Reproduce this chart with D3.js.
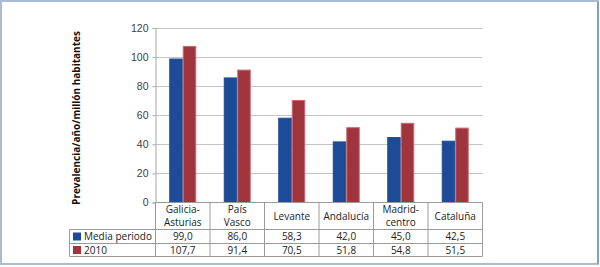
<!DOCTYPE html>
<html>
<head>
<meta charset="utf-8">
<script src="https://cdnjs.cloudflare.com/ajax/libs/d3/7.8.5/d3.min.js"></script>
<style>
  html, body { margin: 0; padding: 0; background: #fff; }
  svg { display: block; font-family: "Open Sans", "Noto Sans", sans-serif; }
</style>
</head>
<body>
<div id="chart"></div>
<script>
// data
const categories = ['Galicia-Asturias', 'País Vasco', 'Levante', 'Andalucía', 'Madrid-centro', 'Cataluña'];
const categoryLines = [['Galicia-', 'Asturias'], ['País', 'Vasco'], ['Levante'], ['Andalucía'], ['Madrid-', 'centro'], ['Cataluña']];
const seriesNames = ['Media periodo', '2010'];
const mediaPeriodo = [99.0, 86.0, 58.3, 42.0, 45.0, 42.5];
const valores2010 = [107.7, 91.4, 70.5, 51.8, 54.8, 51.5];
const yTicks = [0, 20, 40, 60, 80, 100, 120];

const W = 600, H = 267;
const colors = ['#1d4b97', '#a0343c'];
const strokes = ['#1d4b97', '#c86a72'];

const plot = { left: 155.5, right: 482.5, top: 28, bottom: 202.5 };
const tableLeft = 69.5;
const rowLines = [229.5, 243.5, 256.5];

const svg = d3.select('#chart').append('svg')
    .attr('width', W)
    .attr('height', H);

// outer frame
svg.append('rect')
    .attr('x', 1).attr('y', 1)
    .attr('width', W - 3).attr('height', H - 4)
    .attr('fill', '#fff')
    .attr('stroke', '#a9bbd6')
    .attr('stroke-width', 2);
svg.append('line')
    .attr('x1', W - 2).attr('x2', W - 2)
    .attr('y1', 2).attr('y2', H - 3)
    .attr('stroke', '#7394c9').attr('stroke-width', 1.5);

const x = d3.scaleBand()
    .domain(categories)
    .range([plot.left, plot.right]);

const y = d3.scaleLinear()
    .domain([0, 120])
    .range([plot.bottom, plot.top]);

const groupW = 27;
const xs = d3.scaleBand()
    .domain(seriesNames)
    .range([0, groupW]);

// gridlines
svg.append('g')
    .selectAll('line')
    .data(yTicks.filter(d => d > 0))
    .enter()
    .append('line')
    .attr('x1', plot.left).attr('x2', plot.right)
    .attr('y1', d => Math.round(y(d)) + 0.5)
    .attr('y2', d => Math.round(y(d)) + 0.5)
    .attr('stroke', '#c4c4c4');

// y axis
const yAxis = svg.append('g')
    .attr('transform', `translate(${plot.left},0)`)
    .call(d3.axisLeft(y).tickValues(yTicks).tickSize(3).tickPadding(4));
yAxis.select('.domain').attr('stroke', '#a6a6a6');
yAxis.selectAll('.tick line').attr('stroke', '#a6a6a6');
yAxis.selectAll('.tick text')
    .style('font-size', '10.5px')
    .attr('fill', '#404040');

svg.append('text')
    .attr('transform', `translate(80,118) rotate(-90)`)
    .attr('text-anchor', 'middle')
    .style('font-size', '10px')
    .style('font-weight', 'bold')
    .attr('fill', '#111')
    .text('Prevalencia/año/millón habitantes');

// bars
const series = [mediaPeriodo, valores2010];
series.forEach((vals, si) => {
    svg.append('g')
        .selectAll('rect')
        .data(vals)
        .enter()
        .append('rect')
        .attr('x', (d, i) => x(categories[i]) + (x.bandwidth() - groupW) / 2 + xs(seriesNames[si]) + 0.5)
        .attr('y', d => y(d) + 0.5)
        .attr('width', xs.bandwidth() - 1)
        .attr('height', d => y(0) - y(d) - 0.5)
        .attr('fill', colors[si])
        .attr('stroke', strokes[si])
        .attr('stroke-width', 1);
});

// data table
const table = svg.append('g').attr('stroke', '#9a9a9a').attr('stroke-width', 1);
table.append('line')
    .attr('x1', plot.left).attr('x2', plot.right)
    .attr('y1', plot.bottom).attr('y2', plot.bottom);
rowLines.forEach(ly => {
    table.append('line')
        .attr('x1', tableLeft).attr('x2', plot.right)
        .attr('y1', ly).attr('y2', ly);
});
table.append('line')
    .attr('x1', tableLeft).attr('x2', tableLeft)
    .attr('y1', rowLines[0]).attr('y2', rowLines[2]);
categories.concat([null]).forEach((c, i) => {
    const lx = c ? x(c) : plot.right;
    table.append('line')
        .attr('x1', lx).attr('x2', lx)
        .attr('y1', plot.bottom).attr('y2', rowLines[2]);
});

// category labels
categories.forEach((c, i) => {
    const lines = categoryLines[i];
    const cy = (plot.bottom + rowLines[0]) / 2;
    const t = svg.append('text')
        .attr('x', x(c) + x.bandwidth() / 2)
        .attr('text-anchor', 'middle')
        .style('font-size', '10px')
        .attr('fill', '#222');
    lines.forEach((ln, k) => {
        t.append('tspan')
            .attr('x', x(c) + x.bandwidth() / 2)
            .attr('y', cy + 3.5 + (k - (lines.length - 1) / 2) * 12.5)
            .text(ln);
    });
});

// value rows with legend keys
series.forEach((vals, si) => {
    const ry = (rowLines[si] + rowLines[si + 1]) / 2;
    svg.append('rect')
        .attr('x', 73).attr('y', ry - 4)
        .attr('width', 8).attr('height', 8)
        .attr('fill', colors[si]);
    svg.append('text')
        .attr('x', 84).attr('y', ry + 3.5)
        .style('font-size', '10px')
        .attr('fill', '#222')
        .text(seriesNames[si]);
    svg.append('g')
        .selectAll('text')
        .data(vals)
        .enter()
        .append('text')
        .attr('x', (d, i) => x(categories[i]) + x.bandwidth() / 2)
        .attr('y', ry + 3.5)
        .attr('text-anchor', 'middle')
        .style('font-size', '10px')
        .attr('fill', '#222')
        .text(d => d.toFixed(1).replace('.', ','));
});
</script>
</body>
</html>
